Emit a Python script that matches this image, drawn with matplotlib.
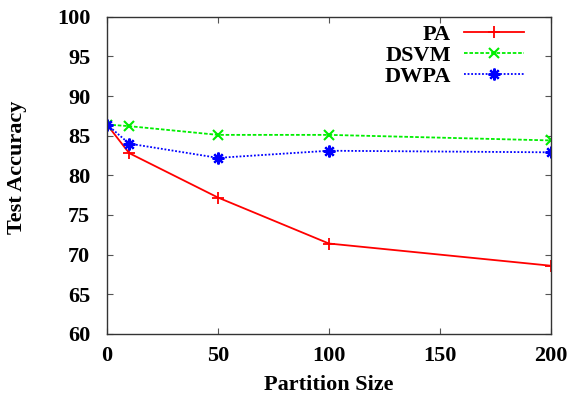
import matplotlib
matplotlib.use("Agg")
import matplotlib.pyplot as plt

# datos
partition_size = [0, 10, 50, 100, 200]
pa = [86.4, 82.8, 77.2, 71.4, 68.6]
dsvm = [86.4, 86.2, 85.1, 85.1, 84.4]
dwpa = [86.4, 84.0, 82.2, 83.1, 82.9]

x_ticks = [0, 50, 100, 150, 200]
y_ticks = [60, 65, 70, 75, 80, 85, 90, 95, 100]

plt.rcParams['font.family'] = ['Liberation Serif', 'DejaVu Serif']
plt.rcParams['font.weight'] = 'bold'

fig = plt.figure(figsize=(5.72, 3.98), dpi=100)
ax = fig.add_axes([0.187, 0.161, 0.776, 0.797])

ax.plot(partition_size, pa, color='#ff0000', linestyle='-', linewidth=1.3,
        marker='+', markersize=8, markeredgewidth=1.3, label='PA')
ax.plot(partition_size, dsvm, color='#00ee00', linestyle=(0, (2, 1)), linewidth=1.3,
        marker='x', markersize=7, markeredgewidth=1.5, label='DSVM')
ax.plot(partition_size, dwpa, color='#0000ff', linestyle=(0, (1, 1)), linewidth=1.3,
        marker=(8, 2, 0), markersize=8.5, markeredgewidth=1.6, label='DWPA')

ax.set_xlim(0, 200)
ax.set_ylim(60, 100)
ax.set_xticks(x_ticks)
ax.set_yticks(y_ticks)
ax.tick_params(direction='in', top=True, right=True, length=4, width=0.8,
               labelsize=16, color='#555555')
ax.tick_params(axis='y', pad=12)
ax.tick_params(axis='x', pad=9)
for lab in ax.get_xticklabels() + ax.get_yticklabels():
    lab.set_fontweight('bold')
for s in ax.spines.values():
    s.set_linewidth(1.0)
    s.set_color('#333333')

ax.set_xlabel('Partition Size', fontsize=16, fontweight='bold', labelpad=6)
ax.set_ylabel('Test Accuracy', fontsize=16, fontweight='bold')
ax.yaxis.set_label_coords(-0.18, 0.524)

leg = ax.legend(loc='upper right', bbox_to_anchor=(0.94, 0.977), frameon=False,
                markerfirst=False, fontsize=16, handlelength=2.7, handletextpad=0.6,
                labelspacing=0.02, borderpad=0.0, borderaxespad=0.0)
for t in leg.get_texts():
    t.set_fontweight('bold')
    t.set_ha('right')
leg._legend_box.align = 'right'

fig.savefig('out.png', dpi=100)
